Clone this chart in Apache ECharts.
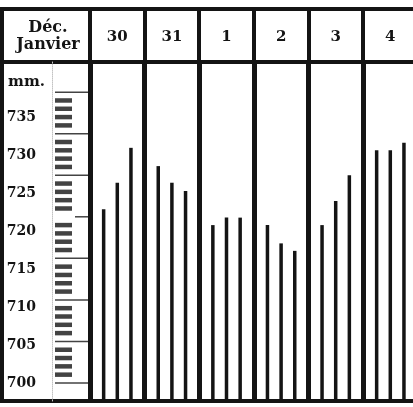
<!DOCTYPE html>
<html><head><meta charset="utf-8">
<script src="https://cdn.jsdelivr.net/npm/echarts@6/dist/echarts.min.js"></script>
<style>html,body{margin:0;padding:0;background:#fff}#c{width:413px;height:407px}</style>
</head><body><div id="c"></div>
<script>
// ---- data ----
const days = ['30', '31', '1', '2', '3', '4'];
const headerTitle = 'Déc.\nJanvier';
const unitLabel = 'mm.';
const readHours = [6, 12, 18];
const morning = [720.9, 726.1, 719.0, 719.0, 719.0, 728.0];
const noon    = [724.1, 724.1, 719.9, 716.8, 721.9, 728.0];
const evening = [728.3, 723.1, 719.9, 715.9, 725.0, 728.9];
const mmTicks = [700, 705, 710, 715, 720, 725, 730, 735];

const INK = '#141414';
const FONT = "'DejaVu Serif', 'Liberation Serif', serif";

const readings = [morning, noon, evening];
const barData = [];
days.forEach((d, i) => {
  readHours.forEach((h, k) => { barData.push([i * 24 + h, readings[k][i]]); });
});

// barometer scale graphic: one dash per mm, one rule per 5 mm
const dashData = [];
for (let v = mmTicks[0] + 1; v < mmTicks[mmTicks.length - 1]; v++) {
  if (v % 5) dashData.push({ value: [11.5, v], symbolSize: [17, 4.5] });
}
const ruleData = mmTicks.map(v => v === 720
  ? { value: [29.5, v], symbolSize: [13, 1.5] }
  : { value: [19.5, v], symbolSize: [33, 1.5] });

const Y_MIN = 697.83, Y_MAX = 738.63;
const PLOT_W = 327.6;
const G = { outerBoundsMode: 'none', containLabel: false };

const chart = echarts.init(document.getElementById('c'), null, { renderer: 'canvas' });
chart.setOption({
  animation: false,
  backgroundColor: '#fff',
  title: {
    text: headerTitle, left: 43, top: 14, textAlign: 'center',
    textStyle: { fontFamily: FONT, fontWeight: 'bold', fontSize: 16, lineHeight: 17, color: INK }
  },
  grid: [
    Object.assign({ left: 2, top: 9, width: 440, height: 53, show: true, borderColor: INK, borderWidth: 4, backgroundColor: 'transparent' }, G),
    Object.assign({ left: 90, top: 9, width: PLOT_W, height: 53 }, G),
    Object.assign({ left: 90, top: 62, width: PLOT_W, bottom: 6 }, G),
    Object.assign({ left: 2, top: 62, width: 440, bottom: 6, show: true, borderColor: INK, borderWidth: 4, backgroundColor: 'transparent' }, G),
    Object.assign({ left: 52, top: 62, width: 38, bottom: 6 }, G),
    Object.assign({ left: 45, top: 117, width: 10, bottom: 24 }, G)
  ],
  xAxis: [
    { gridIndex: 0, type: 'value', show: false },
    { gridIndex: 1, type: 'category', data: days, position: 'top', boundaryGap: true,
      axisLine: { show: false }, axisTick: { show: false },
      splitLine: { show: true, lineStyle: { color: INK, width: 4 } },
      axisLabel: { interval: 0, margin: -28, verticalAlign: 'middle', fontFamily: FONT, fontWeight: 'bold', fontSize: 15, color: INK } },
    { gridIndex: 2, type: 'value', min: 0, max: 144, interval: 24,
      axisLine: { show: false }, axisTick: { show: false }, axisLabel: { show: false },
      splitLine: { show: true, lineStyle: { color: INK, width: 5 } } },
    { gridIndex: 3, type: 'value', show: false },
    { gridIndex: 4, type: 'value', min: 0, max: 38, show: false },
    { gridIndex: 5, type: 'value', show: false }
  ],
  yAxis: [
    { gridIndex: 0, type: 'value', show: false },
    { gridIndex: 1, type: 'value', show: false },
    { gridIndex: 2, type: 'value', min: Y_MIN, max: Y_MAX, show: false },
    { gridIndex: 3, type: 'value', show: false },
    { gridIndex: 4, type: 'value', min: Y_MIN, max: Y_MAX,
      axisLine: { show: true, lineStyle: { type: 'dotted', color: '#c4c4c4', width: 1 } },
      axisTick: { show: false }, axisLabel: { show: false }, splitLine: { show: false } },
    { gridIndex: 5, type: 'value', min: mmTicks[0], max: mmTicks[mmTicks.length - 1], interval: 5,
      axisLine: { show: false }, axisTick: { show: false }, splitLine: { show: false },
      axisLabel: { margin: 9, fontFamily: FONT, fontWeight: 'bold', fontSize: 14, color: INK },
      name: unitLabel, nameLocation: 'end', nameGap: 35,
      nameTextStyle: { align: 'right', verticalAlign: 'middle', fontFamily: FONT, fontWeight: 'bold', fontSize: 15, color: INK } }
  ],
  series: [
    { type: 'bar', xAxisIndex: 2, yAxisIndex: 2, data: barData, barWidth: 3.5, clip: true,
      itemStyle: { color: INK }, silent: true, z: 3 },
    { type: 'scatter', xAxisIndex: 4, yAxisIndex: 4, data: dashData, symbol: 'rect',
      itemStyle: { color: INK }, silent: true },
    { type: 'scatter', xAxisIndex: 4, yAxisIndex: 4, data: ruleData, symbol: 'rect',
      itemStyle: { color: INK }, silent: true }
  ]
});
</script></body></html>
